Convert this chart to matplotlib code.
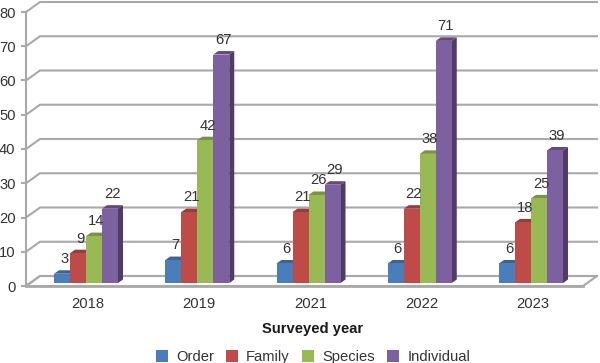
import numpy as np
from matplotlib import pyplot as plt
from matplotlib.patches import Patch, Polygon

plt.rcParams['font.family'] = ['Liberation Sans', 'DejaVu Sans']

years = ['2018', '2019', '2021', '2022', '2023']
series = ['Order', 'Family', 'Species', 'Individual']
order = [3, 7, 6, 6, 6]
family = [9, 21, 21, 22, 18]
species = [14, 42, 26, 38, 25]
individual = [22, 67, 29, 71, 39]
yticks = [0, 10, 20, 30, 40, 50, 60, 70, 80]

front = ['#4a7ebb', '#be4b48', '#98b954', '#7d60a0']
top = ['#3a6494', '#983b39', '#79933f', '#63497f']
side = ['#2f5078', '#7a2f2d', '#617632', '#4f3a68']
grid = '#a9a9a9'
fs = 10.6

W, H = 600, 363
fig = plt.figure(figsize=(W/100, H/100), dpi=100)
# axes box is the front plane of the fake 3d chart
ax = fig.add_axes([26/W, 1-286/H, (583-26)/W, (286-12)/H])
group_px = 111.25
ax.set_xlim((26-86)/group_px, (583-86)/group_px)
ax.set_ylim(0, 80)
px_y = 274/80  # pixels per unit of value
dx = 14/group_px  # depth of the walls
dy = 10/px_y
xlo, xhi = ax.get_xlim()

# floor and back wall
ax.add_patch(Polygon([(xlo, 0), (xhi, 0), (xhi+dx, dy), (xlo+dx, dy)], closed=True,
                     fc='white', ec=grid, lw=1.5, clip_on=False, zorder=1))
for v in yticks:
    ax.plot([xlo, xlo+dx, xhi+dx], [v, v+dy, v+dy], color=grid, lw=1.5,
            clip_on=False, zorder=1, solid_joinstyle='miter')
    ax.plot([xlo-4/group_px, xlo], [v, v], color=grid, lw=1.5, clip_on=False, zorder=1)
ax.plot([xlo, xlo], [0, 80], color=grid, lw=1.5, clip_on=False, zorder=1)
ax.plot([xlo, xhi], [0, 0], color=grid, lw=2, clip_on=False, zorder=2)

for s in ax.spines.values():
    s.set_visible(False)
# labels sit a little right of the bar groups
ax.set_xticks(np.arange(len(years)) + 2/group_px)
ax.set_xticklabels(years, fontsize=fs, color='#333333')
ax.set_yticks(yticks)
ax.set_yticklabels([str(v) for v in yticks], fontsize=fs, color='#333333')
ax.tick_params(axis='both', length=0)
ax.tick_params(axis='x', pad=8)
ax.tick_params(axis='y', pad=7.5)
ax.set_xlabel('Surveyed year', fontsize=fs, fontweight='bold', labelpad=8, color='#1a1a1a', x=0.515)

# bars, drawn left to right so the next front covers the previous side
w = 16/group_px
base = 3/px_y
ddx = 5/group_px
ddy = 3.5/px_y
z = 3
for i, vals in enumerate([order, family, species, individual]):
    xs = np.arange(len(years)) + (i-1.5)*w
    for x, v in zip(xs, vals):
        t = base + v - 0.3
        l, r = x-w/2, x+w/2
        ax.add_patch(Polygon([(l, t), (r, t), (r+ddx, t+ddy), (l+ddx, t+ddy)], closed=True,
                             fc=top[i], ec='none', zorder=z, clip_on=False))
        ax.add_patch(Polygon([(r, base), (r+ddx, base+ddy), (r+ddx, t+ddy), (r, t)], closed=True,
                             fc=side[i], ec='none', zorder=z, clip_on=False))
        ax.bar(x, t-base, w, bottom=base, color=front[i], zorder=z+1)
        ax.annotate(str(v), (x, t), xytext=(1.5, 5.5), textcoords='offset points', ha='center',
                    va='bottom', fontsize=fs, color='#333333', zorder=20, annotation_clip=False)
    z += 2

handles = [Patch(fc=c, ec='none') for c in front]
fig.legend(handles, series, ncol=4, loc='center', bbox_to_anchor=(313/W, 1-357/H), frameon=False,
           fontsize=fs, handlelength=0.8, handleheight=0.8, handletextpad=0.55,
           columnspacing=0.85, labelcolor='#333333', borderpad=0)

fig.savefig('out.png', dpi=100)
